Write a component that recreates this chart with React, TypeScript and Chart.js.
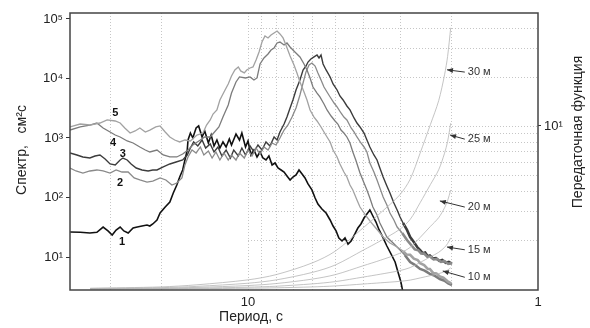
import React, { useEffect, useRef } from 'react';
import { Chart, registerables } from 'chart.js';
Chart.register(...registerables);

const FONT = '"Liberation Sans", Arial, sans-serif';

// Axis ticks
const xTickValues = [1, 10];
const leftTickValues = [10, 100, 1000, 10000, 100000];
const leftTickLabels = ['10¹', '10²', '10³', '10⁴', '10⁵'];
const rightTickValues = [10];
const rightTickLabels = ['10¹'];
const xGridPeriods = [2, 3, 4, 5, 6, 7, 8, 9, 10, 20, 30];
const rightGridValues = [2, 3, 4, 5, 6, 7, 8, 9, 10, 20, 30, 40];

// Spectra: [period s, spectrum cm²s]
const spectrum1: [number, number][] = [
  [41.1, 26.3], [37.9, 26], [35.1, 25.3], [33.2, 26], [31.6, 31.9], [30.4, 27.4], [29.4, 23.4], [28.5, 28.4],
  [27.6, 31.9], [26.8, 27.4], [25.9, 25.3], [24.9, 30.7], [24.1, 31.9], [23.2, 33.2], [22.3, 34.5], [21.8, 33.2],
  [21.3, 35.9], [20.6, 41.9], [20.1, 54.9], [19.3, 69.2], [18.6, 84], [18.1, 119], [17.6, 162], [17.2, 221],
  [16.8, 290], [16.5, 427], [16.2, 628], [16.1, 925], [15.8, 1213], [15.5, 1000], [15.1, 1473], [14.8, 1592],
  [14.4, 1040], [14.1, 1312], [13.7, 824], [13.4, 1122], [13.1, 734], [12.8, 925], [12.5, 679], [12.2, 857],
  [11.9, 706], [11.6, 962], [11.4, 763], [11.0, 1167], [10.7, 925], [10.5, 1213], [10.2, 706], [10.0, 891],
  [9.77, 518], [9.54, 628], [9.31, 480], [9.09, 582], [8.88, 461], [8.67, 427], [8.47, 498], [8.26, 352],
  [8.07, 380], [7.88, 313], [7.69, 290], [7.51, 268], [7.34, 230], [7.16, 197], [7.0, 221], [6.83, 239],
  [6.67, 290], [6.51, 248], [6.36, 213], [6.21, 169], [6.02, 134], [5.87, 98], [5.74, 77.8], [5.56, 64.1],
  [5.38, 54.9], [5.21, 41.9], [5.09, 33.2], [4.97, 27.4], [4.86, 20.9], [4.74, 18.6], [4.63, 20.9], [4.52, 16.5],
  [4.41, 18.6], [4.28, 24.4], [4.18, 30.7], [4.08, 35.9], [3.98, 45.2], [3.89, 52.8], [3.80, 61.7], [3.71, 48.9],
  [3.62, 38.7], [3.53, 28.5], [3.42, 20.9], [3.32, 15.3], [3.21, 11.2], [3.11, 8.24], [3.04, 5.6], [2.97, 3.8],
  [2.92, 2.5],
];

const spectrum2: [number, number][] = [
  [41.1, 313], [39.2, 279], [37.1, 258], [35.1, 279], [33.2, 290], [31.6, 279], [29.9, 258], [28.5, 290],
  [27.2, 268], [25.9, 268], [24.7, 213], [23.6, 197], [22.3, 182], [21.3, 189], [20.1, 213], [19.2, 197],
  [18.3, 162], [17.6, 175], [16.9, 213], [16.5, 352], [16.1, 480], [15.6, 628], [15.1, 560], [14.6, 706],
  [14.2, 518], [13.7, 605], [13.3, 461], [12.9, 582], [12.5, 427], [12.1, 560], [11.7, 427], [11.4, 518],
  [11.0, 427], [10.7, 560], [10.3, 461], [10.0, 628], [9.69, 498], [9.38, 679], [9.09, 538], [8.81, 706],
  [8.53, 628], [8.26, 824], [8.01, 763], [7.76, 1000], [7.51, 1360], [7.28, 1652], [7.05, 2250], [6.83, 3190],
  [6.62, 5280], [6.46, 8390], [6.31, 12900], [6.16, 16900], [6.02, 18200], [5.87, 16200], [5.74, 12400],
  [5.60, 9440], [5.47, 7190], [5.34, 5930], [5.21, 4890], [5.05, 3870], [4.93, 3320], [4.78, 2630], [4.67, 2250],
  [4.56, 2010], [4.41, 1473], [4.31, 1262], [4.21, 1040], [4.08, 824], [3.98, 706], [3.89, 582], [3.80, 380],
  [3.68, 268], [3.59, 197], [3.51, 145], [3.42, 102], [3.32, 74.8], [3.24, 54.9], [3.14, 41.9], [3.06, 31.9],
  [2.94, 25.3], [2.83, 19.3], [2.72, 15.3], [2.66, 13.4], [2.59, 13.0], [2.53, 11.5], [2.47, 11.4], [2.41, 10.1],
  [2.36, 10.2], [2.29, 9.1], [2.23, 9.3], [2.16, 8.3], [2.1, 8.5], [2.04, 7.7], [1.98, 7.9],
];

const spectrum3: [number, number][] = [
  [41.1, 560], [38.9, 518], [37.1, 480], [35.1, 461], [33.7, 498], [32.4, 518], [31.1, 444], [29.9, 366],
  [28.7, 352], [27.6, 427], [27.0, 461], [26.1, 427], [25.3, 366], [24.3, 313], [23.2, 290], [22.1, 279],
  [21.3, 290], [20.6, 290], [19.6, 326], [18.6, 366], [17.7, 395], [16.8, 427], [16.2, 518], [15.8, 679],
  [15.4, 857], [14.9, 734], [14.4, 925], [14.0, 679], [13.5, 793], [13.1, 582], [12.7, 706], [12.3, 498],
  [11.9, 628], [11.5, 461], [11.2, 628], [10.8, 498], [10.5, 679], [10.2, 518], [9.84, 734], [9.54, 582],
  [9.24, 763], [8.95, 628], [8.67, 857], [8.40, 734], [8.13, 1040], [7.94, 925], [7.76, 1262], [7.51, 1718],
  [7.34, 2250], [7.16, 3190], [7.0, 4350], [6.83, 6410], [6.62, 9440], [6.46, 13900], [6.31, 16200],
  [6.21, 18900], [6.07, 21300], [5.92, 23000], [5.78, 24800], [5.69, 22100], [5.60, 24800], [5.51, 17500],
  [5.38, 13900], [5.21, 10600], [5.09, 8090], [4.93, 6410], [4.82, 5080], [4.70, 4350], [4.56, 3450],
  [4.45, 2960], [4.31, 2170], [4.21, 1786], [4.11, 1531], [3.98, 1213], [3.89, 925], [3.80, 706], [3.68, 518],
  [3.59, 427], [3.51, 313], [3.42, 221], [3.32, 156], [3.24, 119], [3.14, 81], [3.06, 61.7], [2.99, 47],
  [2.92, 37.3], [2.83, 28.5], [2.76, 21.7], [2.68, 17.9], [2.61, 14.7], [2.55, 13.1], [2.5, 11.6], [2.45, 11.9],
  [2.4, 10.3], [2.36, 10.6], [2.3, 9.4], [2.25, 9.6], [2.19, 8.6], [2.14, 8.9], [2.08, 8.0], [2.03, 8.3],
  [1.98, 7.7],
];

const spectrum4: [number, number][] = [
  [41.1, 1362], [37.9, 1531], [35.1, 1652], [33.2, 1786], [31.6, 1473], [29.9, 1262], [28.7, 1122], [27.6, 1040],
  [26.1, 891], [24.9, 824], [23.6, 706], [22.6, 628], [21.8, 582], [20.6, 628], [19.6, 518], [18.6, 480],
  [17.6, 480], [16.8, 538], [16.1, 628], [15.5, 763], [14.6, 925], [14.1, 1040], [13.5, 1040], [12.6, 1531],
  [12.2, 2250], [11.7, 3590], [11.4, 5700], [11.0, 8730], [10.7, 10600], [10.2, 10200], [9.84, 10600],
  [9.54, 9440], [9.31, 10200], [9.09, 17500], [8.81, 22100], [8.53, 25800], [8.33, 30100], [8.13, 32600],
  [7.94, 39500], [7.76, 41000], [7.51, 36600], [7.34, 39500], [7.16, 33800], [7.0, 30100], [6.78, 25800],
  [6.62, 23000], [6.41, 17500], [6.26, 13900], [6.11, 10200], [5.97, 7190], [5.78, 5700], [5.65, 4890],
  [5.47, 3730], [5.34, 2960], [5.17, 2340], [5.01, 1931], [4.90, 1718], [4.78, 1360], [4.67, 1213], [4.56, 1040],
  [4.45, 824], [4.35, 582], [4.25, 427], [4.11, 258], [3.98, 175], [3.89, 134], [3.80, 98], [3.71, 69.2],
  [3.59, 50.8], [3.51, 37.3], [3.40, 27.4], [3.32, 21.7], [3.16, 17.2], [2.99, 13.1], [2.88, 10.8], [2.76, 8.24],
  [2.66, 7.4], [2.55, 6.3], [2.46, 5.9], [2.36, 5.2], [2.28, 4.9], [2.18, 4.27], [2.1, 4.0], [2.04, 3.6],
  [1.98, 3.38],
];

const spectrum5: [number, number][] = [
  [41.1, 1531], [37.9, 1718], [35.1, 1652], [32.4, 1786], [30.6, 2009], [28.7, 1931], [27.6, 1786], [26.6, 1473],
  [25.5, 1213], [24.5, 1312], [23.6, 1473], [22.6, 1262], [21.8, 1360], [20.8, 1531], [20.1, 1592], [19.3, 1262],
  [18.6, 1040], [17.9, 925], [17.2, 857], [16.5, 925], [15.8, 891], [15.0, 1122], [14.3, 1213], [13.9, 1652],
  [13.5, 2009], [13.2, 2530], [12.8, 2960], [12.5, 4350], [12.3, 5080], [12.0, 6410], [11.7, 8090], [11.4, 11000],
  [11.1, 13900], [10.8, 15600], [10.6, 13400], [10.3, 12400], [10.1, 13900], [9.84, 15000], [9.61, 15600],
  [9.38, 20500], [9.16, 27900], [8.95, 41000], [8.74, 51800], [8.53, 48000], [8.33, 53800], [8.13, 58200],
  [7.94, 62800], [7.76, 56000], [7.57, 48000], [7.40, 36600], [7.16, 23900], [6.94, 16900], [6.78, 12400],
  [6.62, 8730], [6.41, 5930], [6.26, 4350], [6.11, 2960], [5.92, 2250], [5.78, 1931], [5.60, 1531], [5.47, 1262],
  [5.34, 1040], [5.21, 857], [5.09, 628], [4.93, 480], [4.82, 366], [4.67, 268], [4.56, 221], [4.45, 162],
  [4.35, 134], [4.21, 90.8], [4.11, 69.2], [3.98, 54.9], [3.89, 47], [3.77, 38.7], [3.65, 31.9], [3.53, 26.3],
  [3.42, 21.7], [3.24, 17.2], [3.06, 14.7], [2.92, 12.6], [2.84, 11.0], [2.76, 10.9], [2.68, 9.4], [2.6, 8.9],
  [2.55, 7.9], [2.47, 7.3], [2.4, 6.3], [2.36, 6.3], [2.3, 5.4], [2.24, 5.3], [2.18, 4.7], [2.12, 4.5],
  [2.05, 3.9], [1.99, 3.6],
];

const spectrumNames = ['1', '2', '3', '4', '5'];
const spectrumColors = ['#111111', '#8a8a8a', '#3c3c3c', '#7c7c7c', '#a2a2a2'];
const spectrumNamePeriods = [27.2, 27.6, 27.0, 29.2, 28.7];
const spectrumNameValues = [17.9, 175, 538, 824, 2630];

// Transfer functions (right axis)
const transferPeriods = [35, 20, 15, 10, 8, 6, 5, 4, 3.5, 3, 2.76, 2.55, 2.35, 2.2, 2.1, 2.05, 2];
const transfer30 = [1.011, 1.03, 1.061, 1.138, 1.225, 1.446, 1.707, 2.38, 2.92, 3.77, 4.71, 6.81, 10.2, 14.3, 20.6, 26.7, 40];
const transfer25 = [1.007, 1.019, 1.038, 1.085, 1.137, 1.264, 1.404, 1.733, 1.97, 2.32, 2.67, 3.38, 4.37, 5.39, 6.81, 8.03, 10.4];
const transfer20 = [1.004, 1.011, 1.023, 1.05, 1.08, 1.15, 1.225, 1.39, 1.5, 1.655, 1.8, 2.07, 2.42, 2.74, 3.15, 3.48, 4.05];
const transfer15 = [1.002, 1.006, 1.012, 1.026, 1.04, 1.075, 1.11, 1.184, 1.232, 1.296, 1.353, 1.454, 1.574, 1.679, 1.8, 1.9, 2.06];
const transfer10 = [1.001, 1.002, 1.005, 1.011, 1.017, 1.03, 1.044, 1.073, 1.091, 1.114, 1.134, 1.169, 1.208, 1.241, 1.279, 1.306, 1.35];
const transferNames = ['30 м', '25 м', '20 м', '15 м', '10 м'];
const arrowTipPeriods = [2.06, 2.01, 2.18, 2.06, 2.13];
const arrowTipValues = [22.1, 8.8, 3.47, 1.81, 1.29];
const transferLabelPeriod = 1.76;
const transferLabelValues = [21.4, 8.3, 3.18, 1.74, 1.18];

const decorPlugin = {
  id: 'decor',
  beforeDatasetsDraw(chart: any) {
    const { ctx, chartArea: a, scales } = chart;
    const x = scales.x;
    const y2 = scales.y2;
    ctx.save();
    ctx.strokeStyle = '#c6c6c6';
    ctx.lineWidth = 1;
    ctx.setLineDash([1, 2]);
    xGridPeriods.forEach((p) => {
      const px = Math.round(x.getPixelForValue(p)) + 0.5;
      ctx.beginPath();
      ctx.moveTo(px, a.top);
      ctx.lineTo(px, a.bottom);
      ctx.stroke();
    });
    const x10 = x.getPixelForValue(10);
    rightGridValues.forEach((v) => {
      const py = Math.round(y2.getPixelForValue(v)) + 0.5;
      ctx.beginPath();
      ctx.moveTo(x10, py);
      ctx.lineTo(a.right, py);
      ctx.stroke();
    });
    ctx.restore();
  },
  afterDatasetsDraw(chart: any) {
    const { ctx, chartArea: a, scales, width, height } = chart;
    const x = scales.x;
    const y = scales.y;
    const y2 = scales.y2;
    ctx.save();
    // frame
    ctx.strokeStyle = '#444';
    ctx.lineWidth = 1.5;
    ctx.strokeRect(a.left, a.top, a.right - a.left, a.bottom - a.top);

    // curve numbers
    ctx.fillStyle = '#111';
    ctx.font = `bold 11px ${FONT}`;
    ctx.textAlign = 'center';
    ctx.textBaseline = 'middle';
    spectrumNames.forEach((n, i) => {
      ctx.fillText(n, x.getPixelForValue(spectrumNamePeriods[i]), y.getPixelForValue(spectrumNameValues[i]));
    });

    // transfer labels with arrows
    ctx.font = `11px ${FONT}`;
    ctx.textAlign = 'left';
    ctx.fillStyle = '#333';
    ctx.strokeStyle = '#333';
    ctx.lineWidth = 1;
    transferNames.forEach((n, i) => {
      const tx = x.getPixelForValue(transferLabelPeriod);
      const ty = y2.getPixelForValue(transferLabelValues[i]);
      const hx = x.getPixelForValue(arrowTipPeriods[i]);
      const hy = y2.getPixelForValue(arrowTipValues[i]);
      const sx = tx - 2;
      const sy = ty;
      ctx.beginPath();
      ctx.moveTo(sx, sy);
      ctx.lineTo(hx, hy);
      ctx.stroke();
      const ang = Math.atan2(hy - sy, hx - sx);
      const L = 6;
      const W = 2.5;
      ctx.beginPath();
      ctx.moveTo(hx, hy);
      ctx.lineTo(hx - L * Math.cos(ang) + W * Math.sin(ang), hy - L * Math.sin(ang) - W * Math.cos(ang));
      ctx.lineTo(hx - L * Math.cos(ang) - W * Math.sin(ang), hy - L * Math.sin(ang) + W * Math.cos(ang));
      ctx.closePath();
      ctx.fill();
      ctx.fillText(n, tx + 1, ty);
    });

    // axis titles
    ctx.fillStyle = '#222';
    ctx.font = `14px ${FONT}`;
    ctx.textAlign = 'center';
    ctx.textBaseline = 'middle';
    ctx.fillText('Период, с', x.getPixelForValue(10) + 3, height - 11);
    ctx.save();
    ctx.translate(22, 150);
    ctx.rotate(-Math.PI / 2);
    ctx.fillText('Спектр,   см²с', 0, 0);
    ctx.restore();
    ctx.save();
    ctx.translate(width - 12, 132);
    ctx.rotate(-Math.PI / 2);
    ctx.fillText('Передаточная функция', 0, 0);
    ctx.restore();
    ctx.restore();
  },
};

function pairs(arr: [number, number][]) {
  return arr.map(([p, v]) => ({ x: p, y: v }));
}

function zipT(vals: number[]) {
  return transferPeriods.map((p, i) => ({ x: p, y: vals[i] }));
}

export default function App() {
  const ref = useRef<HTMLCanvasElement | null>(null);
  useEffect(() => {
    if (!ref.current) return;
    const tick = { family: FONT, size: 13 };
    const thickTail = (ctx: any) => (ctx.p0.parsed.x < 2.95 ? 2.6 : undefined);
    const transferSets = [transfer30, transfer25, transfer20, transfer15, transfer10].map((vals, i) => ({
      label: transferNames[i],
      data: zipT(vals),
      yAxisID: 'y2',
      borderColor: '#b5b5b5',
      borderWidth: 0.8,
      pointRadius: 0,
      tension: 0.3,
    }));
    const spec = (data: [number, number][], idx: number, width: number, tail: boolean) => ({
      label: spectrumNames[idx],
      data: pairs(data),
      yAxisID: 'y',
      borderColor: spectrumColors[idx],
      borderWidth: width,
      pointRadius: 0,
      tension: 0,
      segment: tail ? { borderWidth: thickTail } : undefined,
    });
    const chart = new Chart(ref.current, {
      type: 'line',
      data: {
        datasets: [
          ...transferSets,
          spec(spectrum5, 4, 1.3, true),
          spec(spectrum4, 3, 1.3, true),
          spec(spectrum2, 1, 1.3, true),
          spec(spectrum3, 2, 1.4, true),
          spec(spectrum1, 0, 1.6, false),
        ] as any,
      },
      options: {
        responsive: false,
        animation: false,
        devicePixelRatio: 1,
        layout: { padding: { top: 13, left: 0, right: 0, bottom: 0 } },
        plugins: { legend: { display: false }, tooltip: { enabled: false } },
        scales: {
          x: {
            type: 'logarithmic',
            reverse: true,
            min: 1,
            max: 41.1,
            position: 'bottom',
            afterFit: (s: any) => { s.height = 38; },
            afterBuildTicks: (s: any) => { s.ticks = xTickValues.map((v) => ({ value: v })); },
            ticks: { callback: (v: any) => String(v), font: tick, color: '#222', padding: 5, maxRotation: 0, autoSkip: false },
            grid: { display: false, drawTicks: false },
            border: { display: false },
          },
          y: {
            type: 'logarithmic',
            position: 'left',
            min: 2.79,
            max: 126000,
            afterFit: (s: any) => { s.width = 70; },
            afterBuildTicks: (s: any) => { s.ticks = leftTickValues.map((v) => ({ value: v })); },
            ticks: {
              callback: (v: any) => leftTickLabels[leftTickValues.indexOf(Number(v))] ?? '',
              font: tick, color: '#222', padding: 3, autoSkip: false,
            },
            grid: { drawOnChartArea: false, drawTicks: true, tickLength: 4, color: '#333' },
            border: { display: false },
          },
          y2: {
            type: 'logarithmic',
            position: 'right',
            min: 0.986,
            max: 49.3,
            afterFit: (s: any) => { s.width = 52; },
            afterBuildTicks: (s: any) => { s.ticks = rightTickValues.map((v) => ({ value: v })); },
            ticks: {
              callback: (v: any) => rightTickLabels[rightTickValues.indexOf(Number(v))] ?? '',
              font: tick, color: '#222', padding: 3, autoSkip: false,
            },
            grid: { drawOnChartArea: false, drawTicks: true, tickLength: 3, color: '#333' },
            border: { display: false },
          },
        },
      } as any,
      plugins: [decorPlugin],
    });
    return () => chart.destroy();
  }, []);
  return (
    <div style={{ position: 'fixed', left: 0, top: 0, width: 590, height: 328, background: '#fff' }}>
      <canvas ref={ref} width={590} height={328} style={{ display: 'block' }} />
    </div>
  );
}
